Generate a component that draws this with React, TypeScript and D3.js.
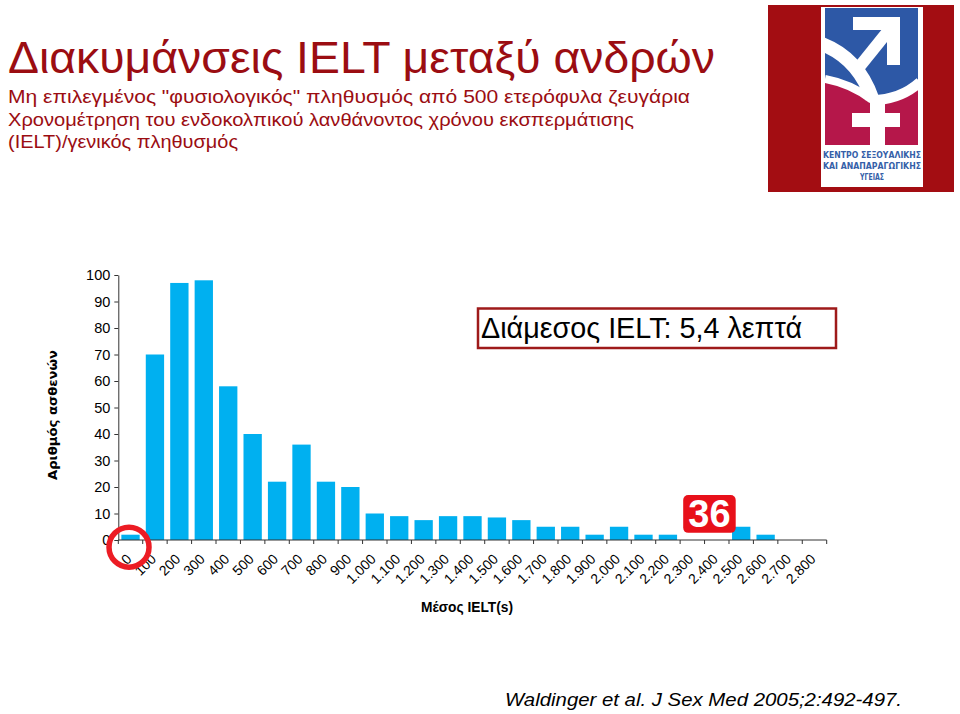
import React from 'react';
import { select, scaleBand, scaleLinear, axisLeft } from 'd3';

// IELT in seconds, one bar per 100 s bin
const categories = [
  '0', '100', '200', '300', '400', '500', '600', '700', '800', '900',
  '1.000', '1.100', '1.200', '1.300', '1.400', '1.500', '1.600', '1.700', '1.800', '1.900',
  '2.000', '2.100', '2.200', '2.300', '2.400', '2.500', '2.600', '2.700', '2.800',
];
const counts = [
  2, 70, 97, 98, 58, 40, 22, 36, 22, 20,
  10, 9, 7.5, 9, 9, 8.5, 7.5, 5, 5, 2,
  5, 2, 2, 0, 0, 5, 2, 0, 0,
];
const yTicks = [0, 10, 20, 30, 40, 50, 60, 70, 80, 90, 100];

const title = 'Διακυμάνσεις IELT μεταξύ ανδρών';
const subtitle = [
  'Μη επιλεγμένος "φυσιολογικός" πληθυσμός από 500 ετερόφυλα ζευγάρια',
  'Χρονομέτρηση του ενδοκολπικού λανθάνοντος χρόνου εκσπερμάτισης',
  '(IELT)/γενικός πληθυσμός',
];
const medianLabel = 'Διάμεσος IELT: 5,4 λεπτά';
const calloutLabel = '36';
const xTitle = 'Μέσος IELT(s)';
const yTitle = 'Αριθμός ασθενών';
const source = 'Waldinger et al. J Sex Med 2005;2:492-497.';
const logoText = ['ΚΕΝΤΡΟ ΣΕΞΟΥΑΛΙΚΗΣ', 'ΚΑΙ ΑΝΑΠΑΡΑΓΩΓΙΚΗΣ', 'ΥΓΕΙΑΣ'];

const dims = {
  width: 960,
  height: 714,
  left: 118.3,
  right: 826.7,
  top: 275,
  bottom: 540,
};

const FONT = "'Liberation Sans', Arial, sans-serif";
const MAROON = '#9b0d12';
const BAR = '#00b0f0';

const Logo: React.FC = () => (
  <g>
    <rect x={768} y={5} width={186} height={187} fill="#a30d12" />
    <rect x={821} y={7} width={102} height={180} fill="#fff" />
    <clipPath id="logoClip">
      <rect x={825} y={8} width={93} height={137} />
    </clipPath>
    <g clipPath="url(#logoClip)" fill="none" stroke="#fff">
      <rect x={825} y={8} width={93} height={137} fill="#2d58a6" stroke="none" />
      <path d="M825,78 Q850,84 872,100 Q898,98 918,84 V145 H825 Z" fill="#b5174a" stroke="none" />
      <path d="M822,44 Q858,58 872,98" strokeWidth={14} />
      <path d="M825,79 Q852,84 872,100" strokeWidth={8} />
      <path d="M920,82 Q900,100 872,100" strokeWidth={10} />
      <line x1={893} y1={25} x2={860} y2={66} strokeWidth={12} />
      <path d="M853,17 H900 V65 H887 V30 H853 Z" fill="#fff" stroke="none" />
      <rect x={870} y={96} width={15} height={50} fill="#fff" stroke="none" />
      <rect x={852} y={113} width={48} height={14} fill="#fff" stroke="none" />
    </g>
    {logoText.map((t, i) => (
      <text
        key={t}
        x={872}
        y={158 + i * 11}
        textAnchor="middle"
        fontFamily="'DejaVu Sans', sans-serif"
        fontWeight="bold"
        fontSize={8}
        fill="#3560a8"
        textLength={i < 2 ? 98 : 24}
        lengthAdjust="spacingAndGlyphs"
      >
        {t}
      </text>
    ))}
  </g>
);

const App: React.FC = () => {
  const chartRef = React.useRef<SVGGElement>(null);

  const x = scaleBand<string>()
    .domain(categories)
    .range([dims.left, dims.right])
    .paddingInner(0.25)
    .paddingOuter(0.125);
  const y = scaleLinear().domain([0, 100]).range([dims.bottom, dims.top]);

  React.useEffect(() => {
    const g = select(chartRef.current);
    g.selectAll('*').remove();

    // bars
    g.append('g')
      .selectAll('rect')
      .data(categories)
      .join('rect')
      .attr('x', (d) => x(d))
      .attr('y', (d, i) => y(counts[i]))
      .attr('width', x.bandwidth())
      .attr('height', (d, i) => y(0) - y(counts[i]))
      .attr('fill', BAR);

    // y axis
    const yAxis = axisLeft(y).tickValues(yTicks).tickSize(4).tickSizeOuter(0).tickPadding(4);
    const yg = g.append('g').attr('transform', `translate(${dims.left},0)`).call(yAxis);
    yg.selectAll('path, line').attr('stroke', '#333');
    yg.selectAll('text')
      .attr('fill', '#000')
      .style('font-family', FONT)
      .style('font-size', '14.5px');

    // x axis: ticks sit on the bin edges
    const pad = x.step() * 0.125;
    const edges = categories.map((c) => x(c) - pad).concat([dims.right]);
    const xg = g.append('g');
    xg.append('line')
      .attr('x1', dims.left)
      .attr('x2', dims.right)
      .attr('y1', y(0))
      .attr('y2', y(0))
      .attr('stroke', '#333');
    xg.selectAll('line.tick')
      .data(edges)
      .join('line')
      .attr('class', 'tick')
      .attr('x1', (d) => d)
      .attr('x2', (d) => d)
      .attr('y1', y(0))
      .attr('y2', y(0) + 4)
      .attr('stroke', '#333');
    xg.selectAll('text')
      .data(categories)
      .join('text')
      .attr('transform', (d) => `translate(${x(d) + x.bandwidth() / 2 + 2},${y(0) + 20}) rotate(-45)`)
      .attr('text-anchor', 'end')
      .attr('fill', '#000')
      .style('font-family', FONT)
      .style('font-size', '14px')
      .text((d) => d);

    // red circle around the first bin
    g.append('circle')
      .attr('cx', x('0') + x.bandwidth() / 2 - 1.5)
      .attr('cy', y(-2.7))
      .attr('r', 20)
      .attr('fill', 'none')
      .attr('stroke', '#ec1c24')
      .attr('stroke-width', 5.5);

    // "36" callout
    const cx0 = x('2.300');
    const cw = x.step() * 2.15;
    g.append('rect')
      .attr('x', cx0)
      .attr('y', y(17))
      .attr('width', cw)
      .attr('height', y(2.7) - y(17))
      .attr('rx', 5)
      .attr('fill', '#e8101a');
    g.append('text')
      .attr('x', cx0 + cw / 2)
      .attr('y', y(4.8))
      .attr('text-anchor', 'middle')
      .attr('font-family', FONT)
      .attr('font-weight', 'bold')
      .attr('font-size', 38)
      .attr('fill', '#fff')
      .text(calloutLabel);
  }, []);

  return (
    <svg
      width={dims.width}
      height={dims.height}
      style={{ position: 'absolute', left: 0, top: 0, background: '#fff' }}
    >
      <rect width={dims.width} height={dims.height} fill="#fff" />
      <text x={8} y={73} fontFamily={FONT} fontSize={44} fill={MAROON} textLength={707} lengthAdjust="spacingAndGlyphs">
        {title}
      </text>
      {subtitle.map((s, i) => (
        <text
          key={s}
          x={8}
          y={103 + i * 22.5}
          fontFamily={FONT}
          fontSize={18}
          fill={MAROON}
          textLength={[682, 626, 230][i]}
          lengthAdjust="spacingAndGlyphs"
        >
          {s}
        </text>
      ))}
      <Logo />

      <g ref={chartRef} />

      <rect x={478} y={308.5} width={358} height={39.5} fill="none" stroke="#9e1a1a" strokeWidth={2.5} />
      <text x={481} y={338} fontFamily={FONT} fontSize={30} fill="#000" textLength={321} lengthAdjust="spacingAndGlyphs">
        {medianLabel}
      </text>

      <text x={421} y={612} fontFamily={FONT} fontWeight="bold" fontSize={14} fill="#000" textLength={92} lengthAdjust="spacingAndGlyphs">
        {xTitle}
      </text>
      <text
        transform="translate(56.5,415) rotate(-90)"
        textAnchor="middle"
        fontFamily="'DejaVu Sans', sans-serif"
        fontWeight="bold"
        fontSize={12}
        fill="#000"
        textLength={130}
        lengthAdjust="spacingAndGlyphs"
      >
        {yTitle}
      </text>

      <text x={505} y={706} fontFamily={FONT} fontStyle="italic" fontSize={18} fill="#000" textLength={397} lengthAdjust="spacingAndGlyphs">
        {source}
      </text>
    </svg>
  );
};

export default App;
